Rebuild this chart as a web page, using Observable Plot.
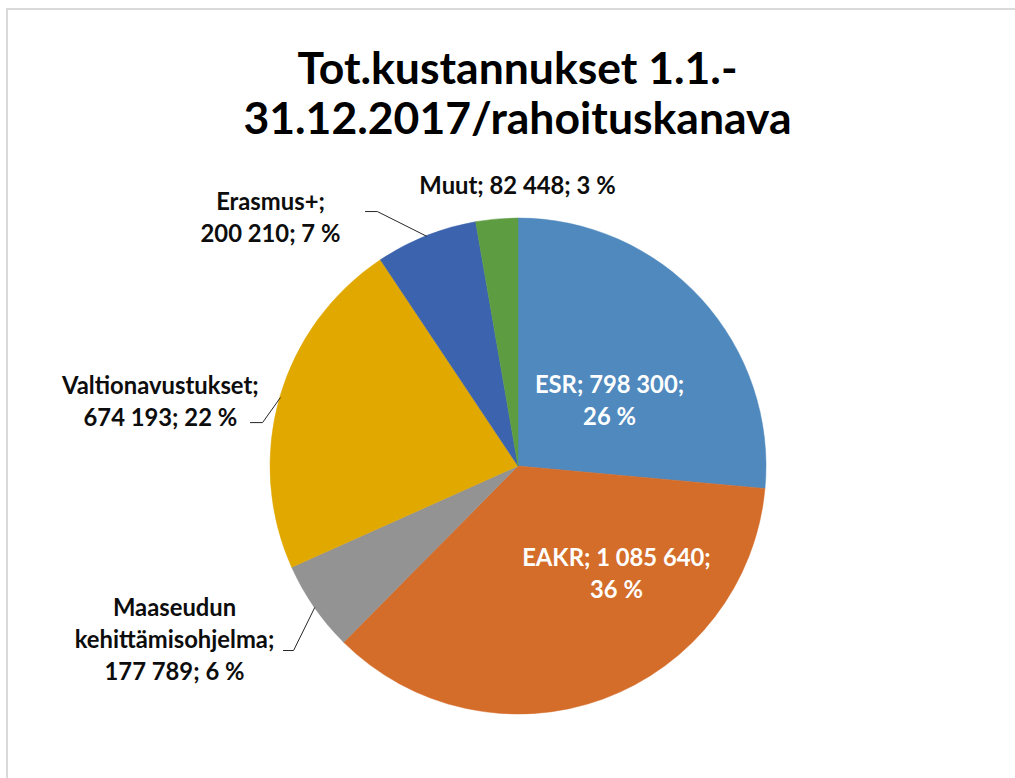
<!DOCTYPE html>
<html>
<head>
<meta charset="utf-8">
<script src="https://cdn.jsdelivr.net/npm/d3@7"></script>
<script src="https://cdn.jsdelivr.net/npm/@observablehq/plot@0.6"></script>
<style>
  body { margin: 0; background: #fff; }
  #wrap { position: relative; width: 1015px; height: 778px; overflow: hidden; font-family: Lato, "Noto Sans", sans-serif; }
  #frame { position: absolute; left: 6px; top: 8px; right: -10px; bottom: -10px;
           border-top: 2px solid #dadada; border-left: 2px solid #dadada; }
  #title { position: absolute; left: 0; top: 0; width: 1015px; height: 150px; box-sizing: border-box;
           padding-left: 20px; padding-top: 42px; text-align: center; font-weight: bold;
           font-size: 44.5px; line-height: 50px; color: #000; }
  #chart { position: absolute; left: 0; top: 150px; }
</style>
</head>
<body>
<div id="wrap">
  <div id="frame"></div>
  <div id="title"><div>Tot.kustannukset 1.1.-</div><div>31.12.2017/rahoituskanava</div></div>
  <div id="chart"></div>
</div>
<script>
// ---- data ----
const categories = ["ESR", "EAKR", "Maaseudun kehittämisohjelma", "Valtionavustukset", "Erasmus+", "Muut"];
const values = [798300, 1085640, 177789, 674193, 200210, 82448];
const colors = ["#4f89be", "#d46c2a", "#939393", "#e1a800", "#3c63ad", "#5e9c42"];

// ---- layout (label anchors in pie-radius units, centre = 0,0, y up) ----
const labelLayout = [
  {category: "ESR", x: 0.367, y: 0.274, fmt: "a", fill: "#ffffff"},
  {category: "EAKR", x: 0.395, y: -0.423, fmt: "a", fill: "#ffffff"},
  {category: "Maaseudun kehittämisohjelma", x: -1.387, y: -0.690, fmt: "m", fill: "#0d0d0d", elbow: [[-0.948, -0.742], [-0.907, -0.742]]},
  {category: "Valtionavustukset", x: -1.444, y: 0.270, fmt: "b", fill: "#0d0d0d", elbow: [[-1.081, 0.177], [-1.032, 0.177]]},
  {category: "Erasmus+", x: -1.0, y: 1.011, fmt: "b", fill: "#0d0d0d", elbow: [[-0.617, 1.028], [-0.569, 1.028]]},
  {category: "Muut", x: -0.004, y: 1.142, fmt: "c", fill: "#0d0d0d"}
];

const data = categories.map((c, i) => ({category: c, value: values[i], color: colors[i]}));
const total = d3.sum(values);
const fi = d3.formatLocale({decimal: ",", thousands: "\u00a0", grouping: [3], currency: ["", "€"]});
const fmtNum = fi.format(",d");

const arcs = d3.pie().sort(null).value(d => d.value)(data);
const arcBy = new Map(arcs.map(a => [a.data.category, a]));

function labelText(L) {
  const d = data.find(e => e.category === L.category);
  const n = d.category, v = fmtNum(d.value), p = Math.round(d.value / total * 100) + "\u00a0%";
  if (L.fmt === "a") return `${n}; ${v};\n${p}`;
  if (L.fmt === "b") return `${n};\n${v}; ${p}`;
  if (L.fmt === "m") return `${n.replace(" ", "\n")};\n${v}; ${p}`;
  return `${n}; ${v}; ${p}`;
}
const labels = labelLayout.map(L => ({...L, text: labelText(L)}));

// leader lines: text end -> elbow -> slice mid-angle on the rim
const leaders = labelLayout.filter(L => L.elbow).flatMap(L => {
  const a = arcBy.get(L.category);
  const mid = (a.startAngle + a.endAngle) / 2;
  return [
    {key: L.category, x: L.elbow[0][0], y: L.elbow[0][1]},
    {key: L.category, x: L.elbow[1][0], y: L.elbow[1][1]},
    {key: L.category, x: Math.sin(mid), y: Math.cos(mid)}
  ];
});

function pieSlices(index, scales) {
  const cx = scales.x(0), cy = scales.y(0), r = scales.x(1) - scales.x(0);
  const arc = d3.arc().innerRadius(0).outerRadius(r);
  const g = d3.create("svg:g").attr("transform", `translate(${cx},${cy})`);
  g.selectAll("path").data(arcs).join("path")
    .attr("d", arc)
    .attr("fill", d => d.data.color)
    .attr("stroke", d => d.data.color)
    .attr("stroke-width", 0.5);
  return g.node();
}

const chart = Plot.plot({
  width: 1015,
  height: 628,
  margin: 0,
  x: {domain: [-1, 1], range: [270, 766], axis: null},
  y: {domain: [-1, 1], range: [564, 68], axis: null},
  style: {background: "transparent", fontFamily: "Lato, 'Noto Sans', sans-serif"},
  marks: [
    pieSlices,
    Plot.line(leaders, {x: "x", y: "y", z: "key", stroke: "#262626", strokeWidth: 1}),
    Plot.text(labels, {
      x: "x", y: "y", text: "text", fill: "fill",
      fontSize: 23.8, fontWeight: "bold", lineHeight: 1.345,
      lineAnchor: "middle", textAnchor: "middle"
    })
  ]
});
document.getElementById("chart").appendChild(chart);
</script>
</body>
</html>
